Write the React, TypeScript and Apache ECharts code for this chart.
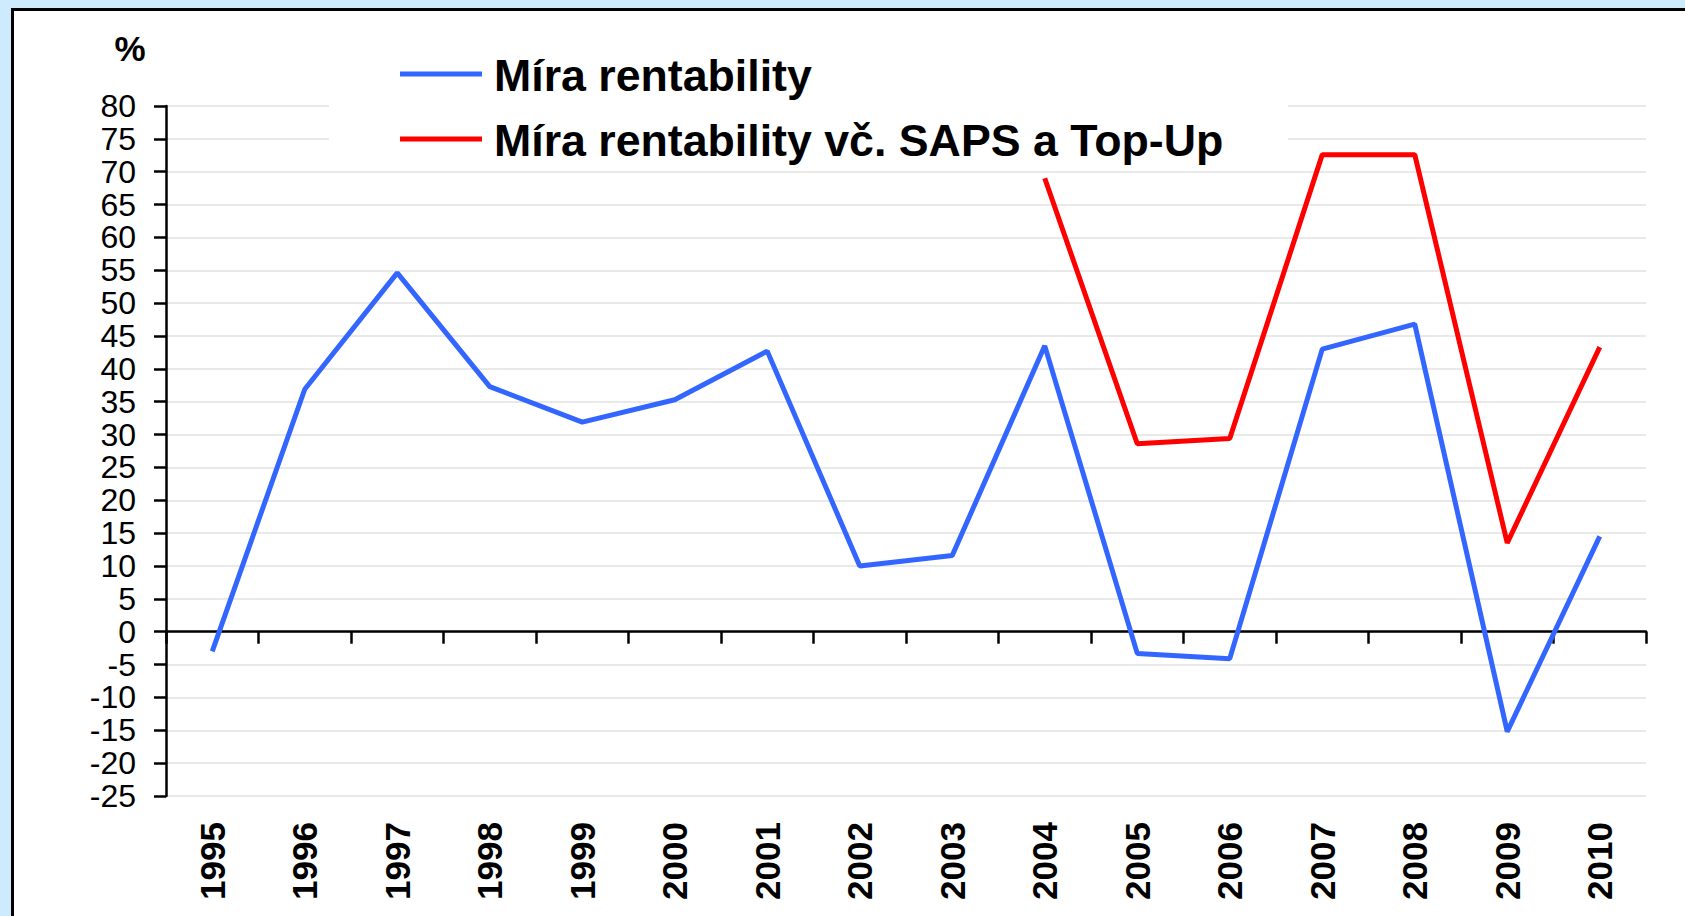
import React, { useEffect, useRef } from "react";
import * as echarts from "echarts";

const years = ["1995", "1996", "1997", "1998", "1999", "2000", "2001", "2002", "2003", "2004", "2005", "2006", "2007", "2008", "2009", "2010"];
const miraRentability = [-3, 36.9, 54.6, 37.3, 31.9, 35.3, 42.7, 10, 11.6, 43.5, -3.3, -4.1, 43, 46.8, -15.2, 14.5];
const miraRentabilitySaps = [null, null, null, null, null, null, null, null, null, 69, 28.6, 29.4, 72.6, 72.6, 13.5, 43.3];
const seriesNames = ["Míra rentability", "Míra rentability vč. SAPS a Top-Up"];
const seriesColors = ["#3366FF", "#FF0000"];
const yMin = -25;
const yMax = 80;
const yStep = 5;
const unitLabel = "%";

const FONT = "'Liberation Sans', Arial, sans-serif";

export default function App() {
  const ref = useRef<HTMLDivElement>(null);

  useEffect(() => {
    if (!ref.current) return;
    const chart = echarts.init(ref.current, null, { renderer: "svg" });
    const legendRows = seriesNames.map((name, i) => {
      const y = 74 + i * 65;
      return [
        {
          type: "line",
          z: 11,
          shape: { x1: 400, y1: y, x2: 482, y2: y },
          style: { stroke: seriesColors[i], lineWidth: 5 },
        },
        {
          type: "text",
          z: 11,
          x: 494,
          y: y + 1,
          style: {
            text: name,
            fill: "#000",
            font: `bold 44.7px ${FONT}`,
            verticalAlign: "middle",
            align: "left",
          },
        },
      ];
    }).flat();

    chart.setOption({
      animation: false,
      backgroundColor: "transparent",
      textStyle: { fontFamily: FONT },
      grid: { left: 166, right: 39, top: 106, bottom: 120, containLabel: false },
      graphic: [
        {
          type: "rect",
          z: 10,
          shape: { x: 329, y: 30, width: 959, height: 132 },
          style: { fill: "#FFFFFF" },
        },
        ...legendRows,
        {
          type: "text",
          z: 11,
          x: 130,
          y: 48,
          style: {
            text: unitLabel,
            fill: "#000",
            font: `bold 35px ${FONT}`,
            align: "center",
            verticalAlign: "middle",
          },
        },
      ],
      xAxis: [
        {
          type: "category",
          data: years,
          boundaryGap: true,
          axisLine: { show: true, onZero: true, lineStyle: { color: "#000", width: 2.5 } },
          axisTick: { show: true, interval: 0, length: 12, inside: false, lineStyle: { color: "#000", width: 2.5 } },
          axisLabel: { show: false },
          splitLine: { show: false },
          z: 3,
        },
        {
          type: "category",
          data: years,
          position: "bottom",
          boundaryGap: true,
          axisLine: { show: false, onZero: false },
          axisTick: { show: false },
          splitLine: { show: false },
          axisLabel: {
            show: true,
            interval: 0,
            rotate: 90,
            margin: 26,
            color: "#000",
            fontSize: 35,
            fontWeight: "bold",
            fontFamily: FONT,
          },
        },
      ],
      yAxis: {
        type: "value",
        min: yMin,
        max: yMax,
        interval: yStep,
        axisLine: { show: true, lineStyle: { color: "#000", width: 2.5 } },
        axisTick: { show: true, length: 12, inside: false, lineStyle: { color: "#000", width: 2.5 } },
        axisLabel: { color: "#000", fontSize: 32, lineHeight: 26, margin: 30, fontFamily: FONT },
        splitLine: { show: true, lineStyle: { color: "#E2E2E2", width: 1.5 } },
        z: 3,
      },
      series: [
        {
          name: seriesNames[0],
          type: "line",
          data: miraRentability,
          xAxisIndex: 0,
          symbol: "none",
          lineStyle: { color: seriesColors[0], width: 5 },
          itemStyle: { color: seriesColors[0] },
          z: 4,
        },
        {
          name: seriesNames[1],
          type: "line",
          data: miraRentabilitySaps,
          xAxisIndex: 0,
          symbol: "none",
          connectNulls: false,
          lineStyle: { color: seriesColors[1], width: 5 },
          itemStyle: { color: seriesColors[1] },
          z: 5,
        },
      ],
    });
    return () => chart.dispose();
  }, []);

  return (
    <div
      style={{
        position: "fixed",
        left: 0,
        top: 0,
        width: 1685,
        height: 916,
        overflow: "hidden",
        background: "#CDEBFD",
      }}
    >
      <div
        style={{
          position: "absolute",
          left: 11,
          top: 8,
          width: 1700,
          height: 940,
          background: "#FFFFFF",
          border: "3px solid #000",
        }}
      />
      <div ref={ref} style={{ position: "absolute", left: 0, top: 0, width: 1685, height: 916 }} />
    </div>
  );
}
